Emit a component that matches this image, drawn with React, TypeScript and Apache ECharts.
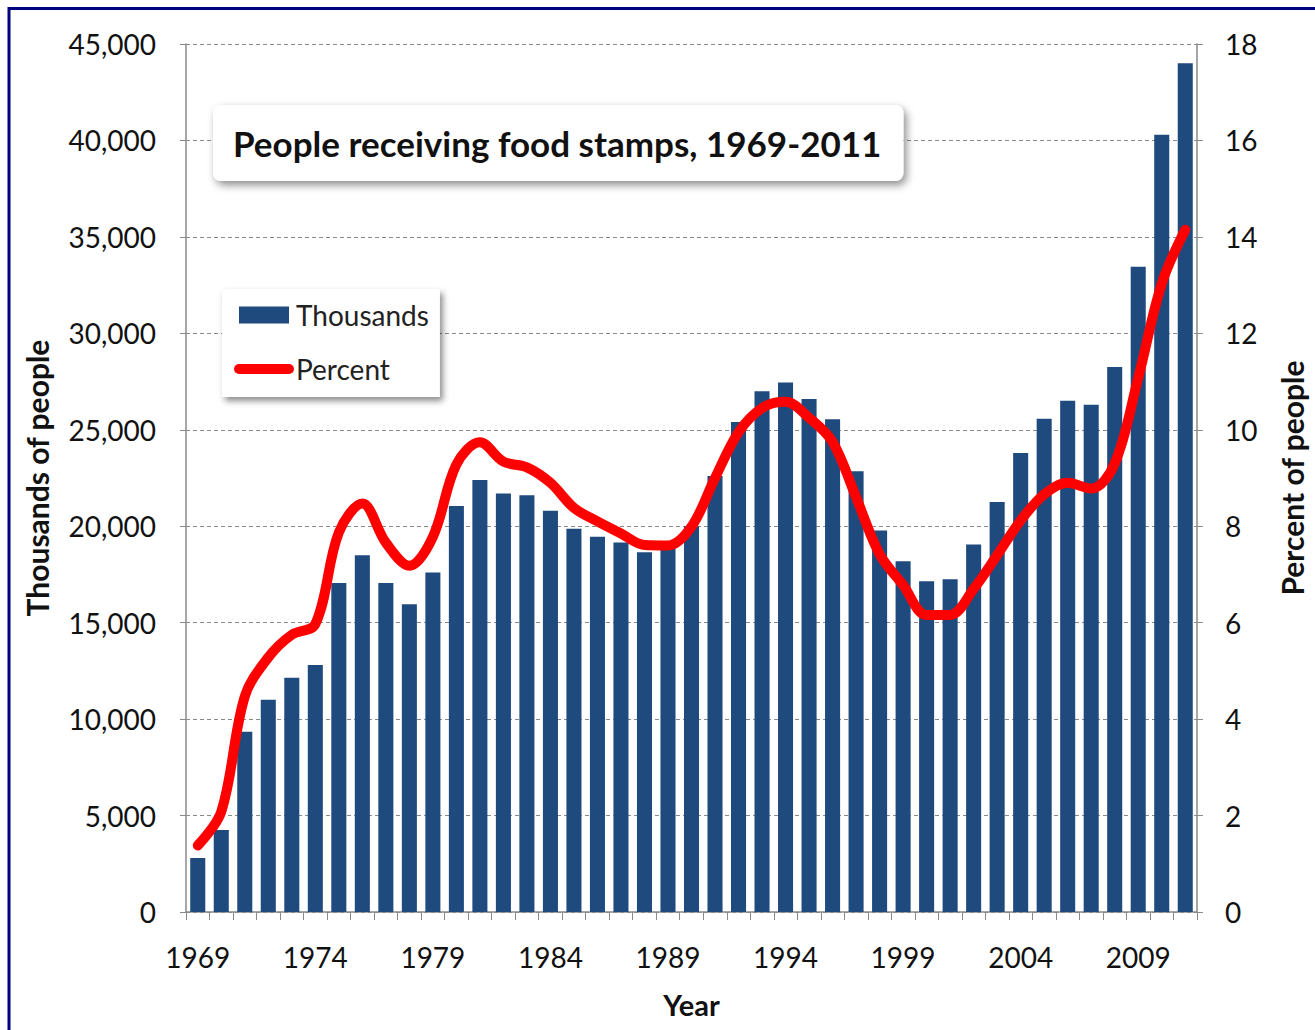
import React, { useEffect, useRef } from "react";
import * as echarts from "echarts";

const years = [
  "1969", "1970", "1971", "1972", "1973", "1974", "1975", "1976", "1977", "1978",
  "1979", "1980", "1981", "1982", "1983", "1984", "1985", "1986", "1987", "1988",
  "1989", "1990", "1991", "1992", "1993", "1994", "1995", "1996", "1997", "1998",
  "1999", "2000", "2001", "2002", "2003", "2004", "2005", "2006", "2007", "2008",
  "2009", "2010", "2011",
];

const thousands = [
  2800, 4250, 9350, 11000, 12150, 12800, 17050, 18500, 17050, 15950,
  17600, 21050, 22400, 21700, 21600, 20800, 19870, 19450, 19150, 18650,
  18850, 20000, 22600, 25400, 27000, 27450, 26600, 25550, 22850, 19780,
  18180, 17150, 17250, 19050, 21250, 23800, 25570, 26500, 26300, 28250,
  33450, 40300, 44000,
];

const percent = [
  1.38, 2.08, 4.47, 5.28, 5.75, 5.97, 7.87, 8.47, 7.66, 7.18,
  7.78, 9.28, 9.74, 9.34, 9.22, 8.9, 8.38, 8.1, 7.85, 7.61,
  7.6, 7.99, 9.0, 9.95, 10.45, 10.58, 10.25, 9.75, 8.6, 7.42,
  6.78, 6.16, 6.16, 6.7, 7.4, 8.12, 8.66, 8.9, 8.78, 9.3,
  11.08, 13.03, 14.15,
];

const titleText = "People receiving food stamps, 1969-2011";
const leftAxisName = "Thousands of people";
const rightAxisName = "Percent of people";
const xAxisName = "Year";

const FONT = "Lato, 'Open Sans', sans-serif";

export default function App() {
  const ref = useRef<HTMLDivElement>(null);

  useEffect(() => {
    if (!ref.current) return;
    const chart = echarts.init(ref.current, undefined, { renderer: "svg" });
    const gridLine = { show: true, lineStyle: { color: "#8a8a8a", type: [4, 3] as any, width: 1 } };
    chart.setOption({
      animation: false,
      backgroundColor: "#ffffff",
      textStyle: { fontFamily: FONT },
      graphic: [
        {
          type: "rect",
          shape: { x: 9, y: 8.5, width: 1400, height: 1100 },
          style: { fill: "none", stroke: "#00007f", lineWidth: 3 },
          silent: true,
          z: 100,
        },
      ],
      title: {
        text: titleText,
        left: 213,
        top: 105,
        padding: [20, 22, 21, 20],
        backgroundColor: "#ffffff",
        borderRadius: 8,
        shadowBlur: 8,
        shadowColor: "rgba(0,0,0,0.45)",
        shadowOffsetX: 3,
        shadowOffsetY: 4,
        textStyle: { fontFamily: FONT, fontSize: 35, fontWeight: "bold", color: "#111111" },
      },
      legend: {
        left: 222,
        top: 289,
        orient: "vertical",
        padding: [12, 11, 14, 12],
        itemGap: 26,
        itemWidth: 50,
        itemHeight: 17,
        backgroundColor: "#ffffff",
        shadowBlur: 6,
        shadowColor: "rgba(0,0,0,0.45)",
        shadowOffsetX: 3,
        shadowOffsetY: 4,
        textStyle: { fontFamily: FONT, fontSize: 28, color: "#222222", padding: [0, 0, 0, 2] },
        data: [
          { name: "Thousands", icon: "rect" },
          {
            name: "Percent",
            itemStyle: { opacity: 0 },
            lineStyle: { width: 10, cap: "round", color: "#ff0000" },
          },
        ],
      },
      grid: { left: 186, right: 117, top: 44, bottom: 118, containLabel: false },
      xAxis: {
        type: "category",
        data: years,
        boundaryGap: true,
        name: xAxisName,
        nameLocation: "middle",
        nameGap: 78,
        nameTextStyle: { fontFamily: FONT, fontSize: 29, fontWeight: "bold", color: "#111111" },
        axisLine: { show: true, lineStyle: { color: "#8a8a8a", width: 1.5 } },
        axisTick: { show: true, interval: 0, length: 8, lineStyle: { color: "#8a8a8a" } },
        axisLabel: { interval: 4, margin: 31, fontFamily: FONT, fontSize: 28, color: "#111111" },
      },
      yAxis: [
        {
          type: "value",
          min: 0,
          max: 45000,
          interval: 5000,
          name: leftAxisName,
          nameLocation: "middle",
          nameGap: 134,
          nameRotate: 90,
          nameTextStyle: { fontFamily: FONT, fontSize: 30, fontWeight: "bold", color: "#111111" },
          axisLine: { show: true, lineStyle: { color: "#8a8a8a", width: 1.5 } },
          axisTick: { show: true, length: 6, lineStyle: { color: "#8a8a8a" } },
          axisLabel: {
            margin: 30,
            fontFamily: FONT,
            fontSize: 28,
            color: "#111111",
            formatter: (v: number) => v.toLocaleString("en-US"),
          },
          splitLine: gridLine,
        },
        {
          type: "value",
          min: 0,
          max: 18,
          interval: 2,
          name: rightAxisName,
          nameLocation: "middle",
          nameGap: 80,
          nameRotate: 90,
          nameTextStyle: { fontFamily: FONT, fontSize: 30, fontWeight: "bold", color: "#111111" },
          axisLine: { show: true, lineStyle: { color: "#8a8a8a", width: 1.5 } },
          axisTick: { show: true, length: 6, lineStyle: { color: "#8a8a8a" } },
          axisLabel: { margin: 28, fontFamily: FONT, fontSize: 28, color: "#111111" },
          splitLine: { show: false },
        },
      ],
      series: [
        {
          name: "Thousands",
          type: "bar",
          data: thousands,
          yAxisIndex: 0,
          barWidth: "64%",
          itemStyle: { color: "#1f4a7e" },
        },
        {
          name: "Percent",
          type: "line",
          data: percent,
          yAxisIndex: 1,
          smooth: 0.35,
          symbol: "none",
          lineStyle: { color: "#ff0000", width: 10, cap: "round", join: "round" },
          itemStyle: { color: "#ff0000" },
          z: 5,
        },
      ],
    });
    return () => chart.dispose();
  }, []);

  return (
    <div
      ref={ref}
      style={{ position: "absolute", left: 0, top: 0, width: 1315, height: 1030 }}
    />
  );
}
